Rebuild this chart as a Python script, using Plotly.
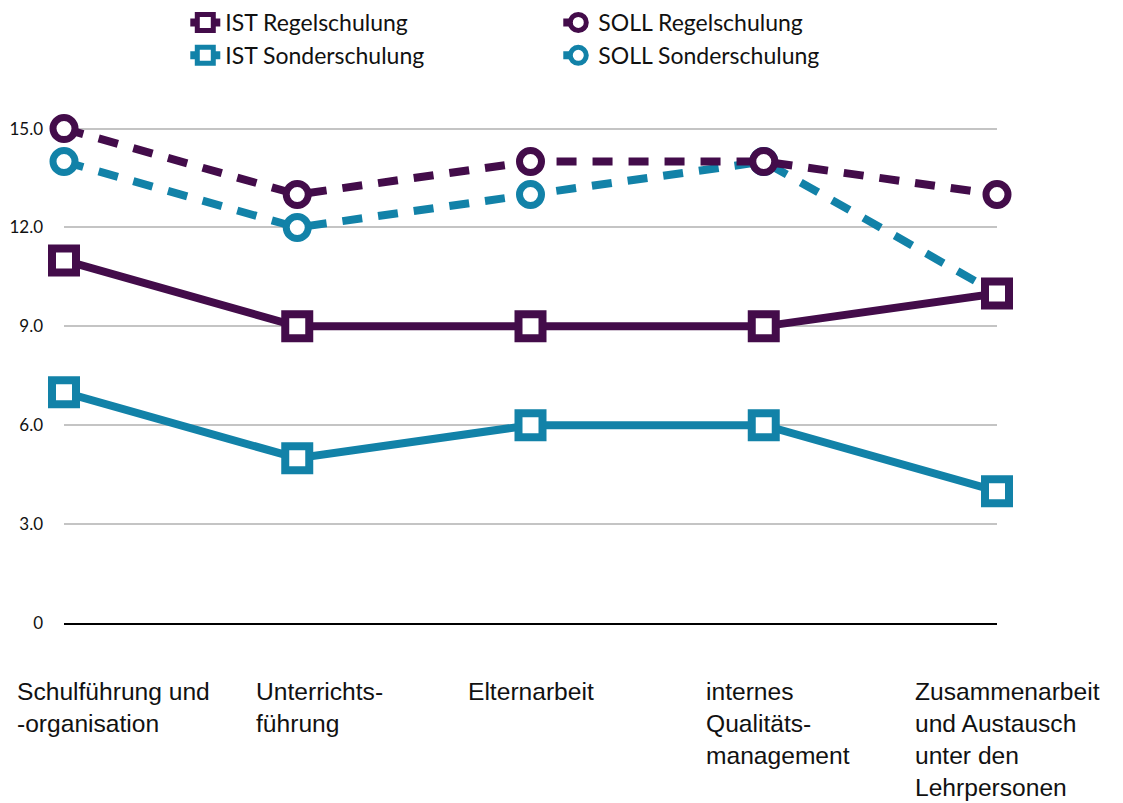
import plotly.graph_objects as go

categories = [
    "Schulführung und<br>-organisation",
    "Unterrichts-<br>führung",
    "Elternarbeit",
    "internes<br>Qualitäts-<br>management",
    "Zusammenarbeit<br>und Austausch<br>unter den<br>Lehrpersonen",
]

ist_regel = [11, 9, 9, 9, 10]
ist_sonder = [7, 5, 6, 6, 4]
soll_regel = [15, 13, 14, 14, 13]
soll_sonder = [14, 12, 13, 14, 10]

y_ticks = [0, 3, 6, 9, 12, 15]
y_tick_text = ["0", "3.0", "6.0", "9.0", "12.0", "15.0"]

PURPLE = "#430c4a"
TEAL = "#1282a8"

x_idx = list(range(len(categories)))

fig = go.Figure()


def add_series(name, values, color, dashed, rank):
    symbol = "circle" if dashed else "square"
    fig.add_trace(go.Scatter(
        x=x_idx,
        y=values,
        name=name,
        mode="lines+markers",
        legendrank=rank,
        cliponaxis=False,
        line=dict(color=color, width=8, dash="20px,16px" if dashed else "solid"),
        marker=dict(
            symbol=symbol,
            size=22 if dashed else 24,
            color="white",
            line=dict(color=color, width=7 if dashed else 8)
        )
    ))


# teal first so purple sits on top where they overlap
add_series("IST Sonderschulung", ist_sonder, TEAL, False, 3)
add_series("SOLL Sonderschulung", soll_sonder, TEAL, True, 4)
add_series("IST Regelschulung", ist_regel, PURPLE, False, 1)
add_series("SOLL Regelschulung", soll_regel, PURPLE, True, 2)

# label offsets (px) relative to each category point
label_shift = [-49, -43, -65, -60, -84]
for i, text in enumerate(categories):
    fig.add_annotation(
        x=i, y=0, xref="x", yref="paper",
        text=text, showarrow=False,
        xanchor="left", yanchor="top", align="left",
        xshift=label_shift[i], yshift=-53,
        font=dict(family="Liberation Sans, Arial", size=24.6, color="#111111")
    )

# page body adds an 8px margin, so the figure is 8px smaller than the window
fig.update_layout(
    width=1115,
    height=795,
    plot_bgcolor="white",
    paper_bgcolor="white",
    margin=dict(l=56, r=126, t=114, b=180, autoexpand=False),
    showlegend=True,
    legend=dict(
        orientation="h",
        x=0.13, xanchor="left",
        y=1.2415, yanchor="top",
        entrywidth=328,
        font=dict(family="Lato", size=23, color="#111111"),
        tracegroupgap=0,
        itemclick=False
    ),
    xaxis=dict(
        range=[0, 4],
        automargin=False,
        showgrid=False,
        showticklabels=False,
        zeroline=False,
        showline=True,
        linecolor="#000000",
        linewidth=1.5
    ),
    yaxis=dict(
        range=[0, 15.2],
        automargin=False,
        tickvals=y_ticks,
        ticktext=y_tick_text,
        showgrid=True,
        gridcolor="#c4c4c4",
        gridwidth=1.5,
        zeroline=False,
        showline=False,
        ticks="",
        ticklabelstandoff=20,
        tickfont=dict(family="Lato", size=17, color="#111111")
    )
)

fig.write_html("out.html")
